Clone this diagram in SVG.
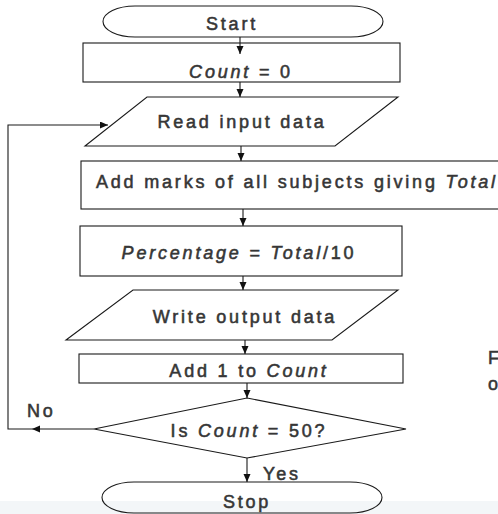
<svg xmlns="http://www.w3.org/2000/svg" width="498" height="514" viewBox="0 0 498 514">
<defs>
<style>
.shape{fill:none;stroke:#1a1a1a;stroke-width:1.1}
.conn{fill:none;stroke:#1a1a1a;stroke-width:1.1}
text{font-family:"Liberation Sans",Arial,sans-serif;font-size:18px;fill:#363636;stroke:#363636;stroke-width:0.55px;letter-spacing:2.8px}
.c{text-anchor:middle}
.i{font-style:italic}
</style>
<marker id="ah" markerUnits="userSpaceOnUse" markerWidth="9" markerHeight="8" refX="8" refY="3.5" orient="auto">
<path d="M0,0 L8,3.5 L0,7 Z" fill="#111"/>
</marker>
</defs>
<rect x="0" y="0" width="498" height="514" fill="#fff"/>
<rect x="0" y="501" width="498" height="13" fill="#f3f6f8"/>

<g id="start">
<path class="shape" d="M135,6 H351 A32,15.5 0 0 1 351,37 H135 A32,15.5 0 0 1 135,6 Z"/>
<text class="c" x="232" y="30">Start</text>
</g>
<g id="init">
<rect class="shape" x="83" y="43" width="317" height="39"/>
<text class="c" x="241" y="78"><tspan class="i">Count</tspan> = 0</text>
</g>
<g id="read">
<path class="shape" d="M147,97 H398 L335,146 H85 Z"/>
<text class="c" x="242" y="128">Read input data</text>
</g>
<g id="sum">
<rect class="shape" x="81" y="161" width="440" height="48"/>
<text x="96" y="188">Add marks of all subjects giving <tspan class="i">Total</tspan></text>
</g>
<g id="percent">
<rect class="shape" x="80" y="226" width="322" height="50"/>
<text class="c" x="239" y="259"><tspan class="i">Percentage</tspan> = <tspan class="i">Total</tspan>/10</text>
</g>
<g id="write">
<path class="shape" d="M133,290 H398 L332,340 H66 Z"/>
<text class="c" x="245" y="323">Write output data</text>
</g>
<g id="inc">
<rect class="shape" x="79" y="354" width="324" height="29"/>
<text class="c" x="249" y="377">Add 1 to <tspan class="i">Count</tspan></text>
</g>
<g id="decide">
<path class="shape" d="M247,398 L406,429 L247,458 L94,429 Z"/>
<text class="c" x="249" y="437">Is <tspan class="i">Count</tspan> = 50?</text>
</g>
<g id="stop">
<path class="shape" d="M134,482 H350 A32,15.5 0 0 1 350,513 H134 A32,15.5 0 0 1 134,482 Z"/>
<text class="c" x="247" y="508">Stop</text>
</g>

<g id="connectors">
<path class="conn" marker-end="url(#ah)" d="M240,37 V54"/>
<path class="conn" marker-end="url(#ah)" d="M240,82 V97"/>
<path class="conn" marker-end="url(#ah)" d="M241,146 V161"/>
<path class="conn" marker-end="url(#ah)" d="M243,209 V226"/>
<path class="conn" marker-end="url(#ah)" d="M243,276 V290"/>
<path class="conn" marker-end="url(#ah)" d="M245,340 V354"/>
<path class="conn" marker-end="url(#ah)" d="M247,383 V398"/>
<path class="conn" marker-end="url(#ah)" d="M247,458 V482"/>
<path class="conn" marker-end="url(#ah)" d="M94,429 H32"/>
<path class="conn" marker-end="url(#ah)" d="M32,429 H8 V125 H108"/>
<text x="27" y="417">No</text>
<text x="263" y="480">Yes</text>
</g>

<text x="488" y="364">F</text>
<text x="488" y="390">o</text>
</svg>
